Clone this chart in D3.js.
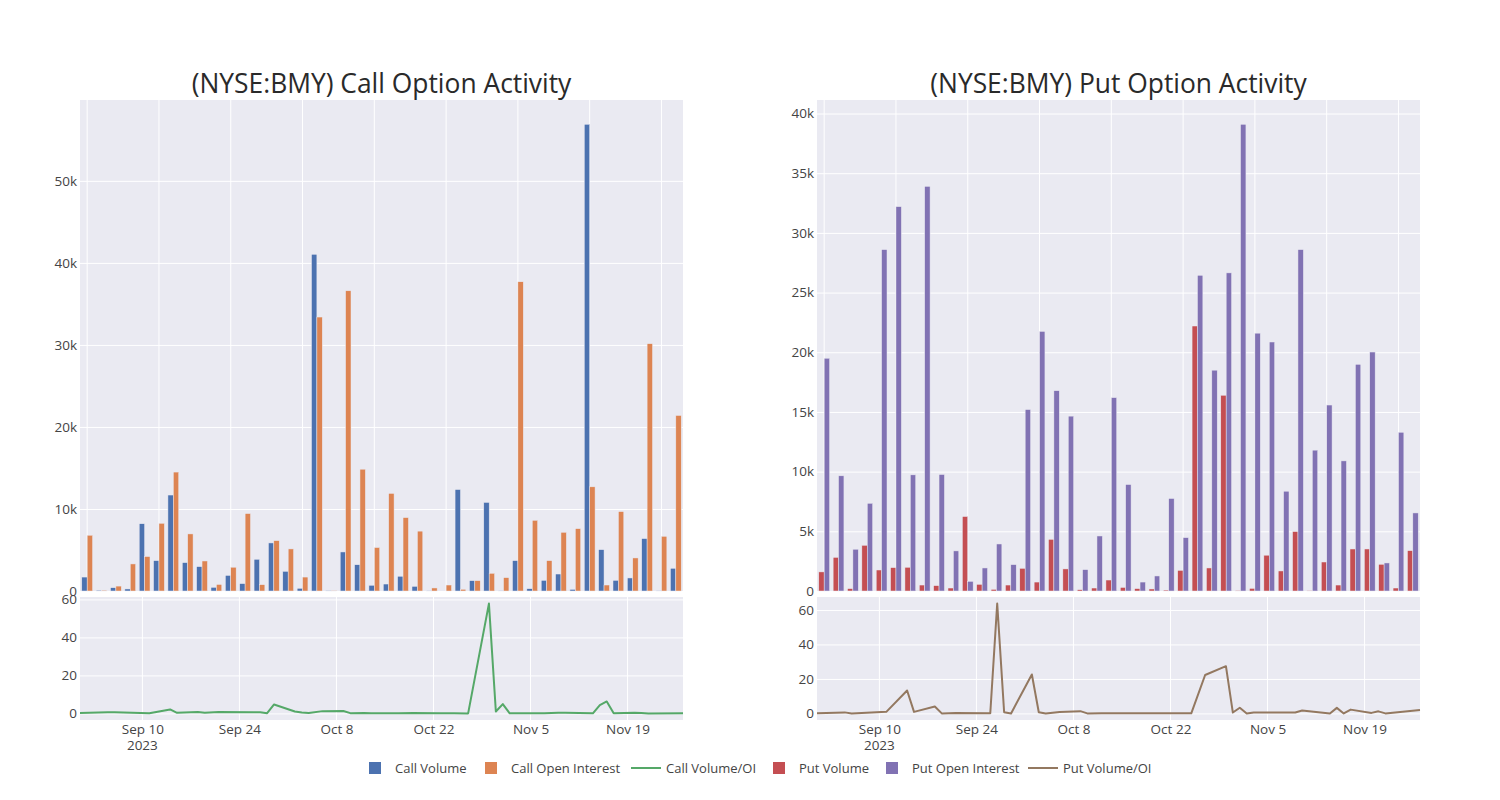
<!DOCTYPE html>
<html>
<head>
<meta charset="utf-8">
<script src="https://cdn.jsdelivr.net/npm/d3@7"></script>
<style>
  html, body { margin: 0; padding: 0; background: #ffffff; }
  svg { display: block; font-family: "Open Sans", "Noto Sans", sans-serif; }
</style>
</head>
<body>
<svg id="chart" width="1500" height="800"></svg>
<script>
// ---------------- DATA ----------------
const dates = ["2023-09-01","2023-09-05","2023-09-06","2023-09-11","2023-09-14","2023-09-15","2023-09-18","2023-09-19","2023-09-21","2023-09-26","2023-09-27","2023-09-28","2023-09-29","2023-10-02","2023-10-03","2023-10-04","2023-10-06","2023-10-09","2023-10-10","2023-10-12","2023-10-13","2023-10-17","2023-10-19","2023-10-23","2023-10-25","2023-10-27","2023-10-30","2023-10-31","2023-11-01","2023-11-02","2023-11-03","2023-11-07","2023-11-09","2023-11-10","2023-11-14","2023-11-15","2023-11-16","2023-11-17","2023-11-20","2023-11-21","2023-11-22","2023-11-27"];

const callVolume = [1700,100,400,250,8200,3700,11700,3460,2970,450,1900,900,3870,5860,2400,330,41050,30,4760,3200,700,850,1800,570,40,0,12370,1260,10800,40,3700,280,1300,2070,200,56900,5040,1300,1590,6390,40,2770];
const callOpenInterest = [6800,100,600,3300,4200,8260,14500,6960,3660,800,2900,9440,770,6140,5130,1700,33400,30,36600,14850,5300,11900,8950,7300,370,730,214,1260,2160,1630,37700,8620,3700,7160,7600,12700,730,9680,4030,30150,6670,21400];
const callVolOI = [0.25,0.6,0.65,0.05,2.1,0.3,0.8,0.4,0.8,0.55,0.65,0.1,4.7,1.0,0.45,0.2,1.2,1.3,0.13,0.22,0.13,0.07,0.2,0.08,0.1,0.0,57.8,1.0,4.9,0.02,0.1,0.03,0.35,0.29,0.03,4.4,6.3,0.13,0.39,0.21,0.01,0.13];

const putVolume = [1600,2820,200,3830,1760,1960,1990,500,450,250,6240,560,140,500,1900,750,4330,1850,110,250,920,300,200,170,80,1730,22200,1930,16400,50,220,3000,1680,4980,20,2430,500,3520,3520,2240,250,3380];
const putOpenInterest = [19500,9650,3500,7350,28600,32200,9730,33900,9760,3360,810,1930,3940,2210,15200,21750,16780,14650,1790,4610,16200,8920,750,1260,7750,4470,26450,18500,26650,39100,21600,20860,8360,28600,11800,15580,10900,18990,20020,2350,13300,6540];
const putVolOI = [0.1,0.6,0.0,0.9,13.3,0.9,4.0,0.0,0.3,0.1,63.7,0.7,0.0,22.6,0.7,0.0,0.8,1.3,0.0,0.05,0.05,0.05,0.05,0.05,0.05,22.3,27.4,0.5,3.3,0.0,0.5,0.5,0.5,1.7,0.0,3.2,0.0,2.2,0.3,1.2,0.0,2.0];

const lineTickDates = ["2023-09-10","2023-09-24","2023-10-08","2023-10-22","2023-11-05","2023-11-19"];
const callBarTicks = [0,10000,20000,30000,40000,50000];
const putBarTicks = [0,5000,10000,15000,20000,25000,30000,35000,40000];
const callLineTicks = [0,20,40,60];
const putLineTicks = [0,20,40,60];

const titles = ["(NYSE:BMY) Call Option Activity", "(NYSE:BMY) Put Option Activity"];
const legendLabels = ["Call Volume","Call Open Interest","Call Volume/OI","Put Volume","Put Open Interest","Put Volume/OI"];

// ---------------- STYLE ----------------
const COLORS = {
  callVol: "#4C72B0", callOI: "#DD8452", callLine: "#55A868",
  putVol: "#C44E52", putOI: "#8172B3", putLine: "#937860"
};
const BG = "#EAEAF2";
const TEXT = "#2a2a2a";
const TICK = "#444";
const TICK_FS = 13.5;

const svg = d3.select("#chart");
const parse = d3.utcParse("%Y-%m-%d");

const barTop = 100, barBottom = 591, lineTop = 597, lineBottom = 720;

const panels = [
  { left: 80, right: 683, title: titles[0], vol: callVolume, oi: callOpenInterest, ratio: callVolOI,
    barTicks: callBarTicks, lineTicks: callLineTicks,
    cVol: COLORS.callVol, cOI: COLORS.callOI, cLine: COLORS.callLine },
  { left: 817, right: 1420, title: titles[1], vol: putVolume, oi: putOpenInterest, ratio: putVolOI,
    barTicks: putBarTicks, lineTicks: putLineTicks,
    cVol: COLORS.putVol, cOI: COLORS.putOI, cLine: COLORS.putLine }
];

const kFmt = v => v === 0 ? "0" : (v / 1000) + "k";

panels.forEach(p => {
  const g = svg.append("g");
  const width = p.right - p.left;

  // Title
  g.append("text")
    .attr("x", (p.left + p.right) / 2).attr("y", 93)
    .attr("text-anchor", "middle")
    .attr("font-size", 26.4).attr("fill", TEXT)
    .text(p.title);

  // ---------- Bar subplot ----------
  g.append("rect").attr("x", p.left).attr("y", barTop)
    .attr("width", width).attr("height", barBottom - barTop).attr("fill", BG);

  const x = d3.scaleBand().domain(dates).range([p.left, p.right]).paddingInner(0).paddingOuter(0);
  const xs = d3.scaleBand().domain(["vol", "oi"]).range([0, x.bandwidth()]).paddingInner(0).paddingOuter(0.33);
  const maxBar = d3.max(p.vol.concat(p.oi));
  const y = d3.scaleLinear().domain([0, maxBar * 1.052]).range([barBottom, barTop]);

  // vertical grid at every 5th category
  const gridCats = dates.filter((d, i) => i % 5 === 0);
  g.append("g").selectAll("line").data(gridCats).join("line")
    .attr("x1", d => x(d) + x.bandwidth() / 2).attr("x2", d => x(d) + x.bandwidth() / 2)
    .attr("y1", barTop).attr("y2", barBottom)
    .attr("stroke", "#ffffff").attr("stroke-width", 1);

  // horizontal grid + labels
  const yAxis = d3.axisLeft(y).tickValues(p.barTicks).tickFormat(kFmt).tickSize(-width).tickPadding(3);
  const ya = g.append("g").attr("transform", `translate(${p.left},0)`).call(yAxis);
  ya.select(".domain").remove();
  ya.selectAll(".tick line").attr("stroke", "#ffffff").attr("stroke-width", 1);
  ya.selectAll(".tick text").attr("font-size", TICK_FS).attr("fill", TICK).attr("font-family", "Open Sans");

  const rows = dates.map((d, i) => ({ d, vol: p.vol[i], oi: p.oi[i] }));
  const grp = g.append("g").selectAll("g").data(rows).join("g")
    .attr("transform", r => `translate(${x(r.d)},0)`);
  grp.append("rect")
    .attr("x", xs("vol")).attr("width", xs.bandwidth())
    .attr("y", r => y(r.vol)).attr("height", r => barBottom - y(r.vol))
    .attr("fill", p.cVol).attr("stroke", "#EAEAF2").attr("stroke-width", 0.5);
  grp.append("rect")
    .attr("x", xs("oi")).attr("width", xs.bandwidth())
    .attr("y", r => y(r.oi)).attr("height", r => barBottom - y(r.oi))
    .attr("fill", p.cOI).attr("stroke", "#EAEAF2").attr("stroke-width", 0.5);

  // ---------- Line subplot ----------
  g.append("rect").attr("x", p.left).attr("y", lineTop)
    .attr("width", width).attr("height", lineBottom - lineTop).attr("fill", BG);

  const xt = d3.scaleUtc().domain([parse(dates[0]), parse(dates[dates.length - 1])]).range([p.left, p.right]);
  const maxLine = d3.max(p.ratio);
  const pad = maxLine * 0.06;
  const yl = d3.scaleLinear().domain([-pad, maxLine + pad]).range([lineBottom, lineTop]);

  const tickD = lineTickDates.map(parse);
  g.append("g").selectAll("line").data(tickD).join("line")
    .attr("x1", d => xt(d)).attr("x2", d => xt(d))
    .attr("y1", lineTop).attr("y2", lineBottom)
    .attr("stroke", "#ffffff").attr("stroke-width", 1);

  const ylAxis = d3.axisLeft(yl).tickValues(p.lineTicks).tickFormat(d3.format("d")).tickSize(-width).tickPadding(3);
  const yla = g.append("g").attr("transform", `translate(${p.left},0)`).call(ylAxis);
  yla.select(".domain").remove();
  yla.selectAll(".tick line").attr("stroke", "#ffffff").attr("stroke-width", 1);
  yla.selectAll(".tick text").attr("font-size", TICK_FS).attr("fill", TICK).attr("font-family", "Open Sans");

  const xAxis = d3.axisBottom(xt).tickValues(tickD).tickFormat(d3.utcFormat("%b %-d")).tickSize(0).tickPadding(4);
  const xa = g.append("g").attr("transform", `translate(0,${lineBottom})`).call(xAxis);
  xa.select(".domain").remove();
  xa.selectAll(".tick text").attr("font-size", TICK_FS).attr("fill", TICK).attr("font-family", "Open Sans");
  // year label under first tick
  g.append("text").attr("x", xt(tickD[0])).attr("y", 750)
    .attr("text-anchor", "middle").attr("font-size", TICK_FS).attr("fill", TICK)
    .text(d3.utcFormat("%Y")(tickD[0]));

  const line = d3.line().x((v, i) => xt(parse(dates[i]))).y(v => yl(v));
  g.append("path").datum(p.ratio)
    .attr("d", line).attr("fill", "none")
    .attr("stroke", p.cLine).attr("stroke-width", 2).attr("stroke-linejoin", "round");
});

// ---------------- LEGEND ----------------
const legendItems = [
  { label: legendLabels[0], type: "bar", color: COLORS.callVol, x: 355 },
  { label: legendLabels[1], type: "bar", color: COLORS.callOI, x: 471 },
  { label: legendLabels[2], type: "line", color: COLORS.callLine, x: 626 },
  { label: legendLabels[3], type: "bar", color: COLORS.putVol, x: 759 },
  { label: legendLabels[4], type: "bar", color: COLORS.putOI, x: 872 },
  { label: legendLabels[5], type: "line", color: COLORS.putLine, x: 1023 }
];
const ly = 768;
const lg = svg.append("g").selectAll("g").data(legendItems).join("g")
  .attr("transform", d => `translate(${d.x},${ly})`);
lg.filter(d => d.type === "bar").append("rect")
  .attr("x", 14).attr("y", -6).attr("width", 12).attr("height", 12)
  .attr("fill", d => d.color);
lg.filter(d => d.type === "line").append("line")
  .attr("x1", 5).attr("x2", 35).attr("y1", 0).attr("y2", 0)
  .attr("stroke", d => d.color).attr("stroke-width", 2);
lg.append("text").attr("x", 40).attr("y", 0).attr("dy", "0.35em")
  .attr("font-size", 13).attr("fill", TICK)
  .text(d => d.label);
</script>
</body>
</html>
